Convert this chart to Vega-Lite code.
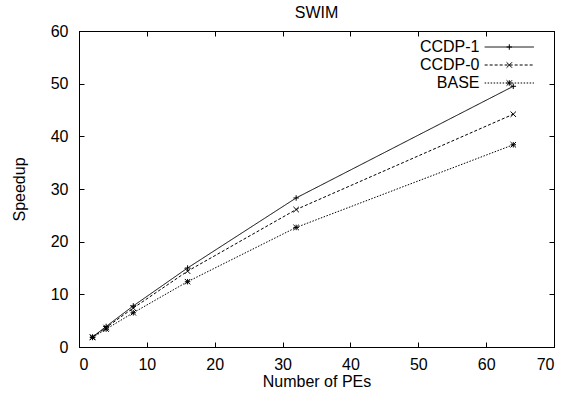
{
  "$schema": "https://vega.github.io/schema/vega-lite/v6.json",
  "autosize": {"type": "none"},
  "width": 475,
  "height": 316,
  "padding": {"left": 79, "top": 31, "right": 17, "bottom": 51},
  "background": "white",
  "title": {"text": "SWIM", "fontSize": 16, "font": "Liberation Sans", "fontWeight": "normal", "color": "black", "offset": 2},
  "config": {
    "view": {"stroke": "black", "strokeWidth": 1},
    "font": "Liberation Sans",
    "axis": {
      "grid": false,
      "domainColor": "black",
      "tickColor": "black",
      "tickSize": -5,
      "labelFont": "Liberation Sans",
      "labelFontSize": 16,
      "labelColor": "black",
      "titleFont": "Liberation Sans",
      "titleFontSize": 16,
      "titleFontWeight": "normal",
      "titleColor": "black"
    },
    "legend": {
      "labelFont": "Liberation Sans",
      "labelFontSize": 16,
      "labelColor": "black"
    }
  },
  "data": {
    "values": [
      {"series": "CCDP-1", "pes": 2, "speedup": 1.9},
      {"series": "CCDP-1", "pes": 4, "speedup": 3.9},
      {"series": "CCDP-1", "pes": 8, "speedup": 7.8},
      {"series": "CCDP-1", "pes": 16, "speedup": 15.0},
      {"series": "CCDP-1", "pes": 32, "speedup": 28.3},
      {"series": "CCDP-1", "pes": 64, "speedup": 49.5},
      {"series": "CCDP-0", "pes": 2, "speedup": 1.9},
      {"series": "CCDP-0", "pes": 4, "speedup": 3.7},
      {"series": "CCDP-0", "pes": 8, "speedup": 7.4},
      {"series": "CCDP-0", "pes": 16, "speedup": 14.4},
      {"series": "CCDP-0", "pes": 32, "speedup": 26.1},
      {"series": "CCDP-0", "pes": 64, "speedup": 44.2},
      {"series": "BASE", "pes": 2, "speedup": 1.8},
      {"series": "BASE", "pes": 4, "speedup": 3.4},
      {"series": "BASE", "pes": 8, "speedup": 6.5},
      {"series": "BASE", "pes": 16, "speedup": 12.4},
      {"series": "BASE", "pes": 32, "speedup": 22.7},
      {"series": "BASE", "pes": 64, "speedup": 38.4}
    ]
  },
  "layer": [
    {
      "mark": {"type": "line", "color": "black", "strokeWidth": 1},
      "encoding": {
        "x": {
          "field": "pes", "type": "quantitative",
          "scale": {"domain": [0, 70], "nice": false, "zero": false},
          "axis": {"orient": "bottom", "values": [0, 10, 20, 30, 40, 50, 60, 70], "title": "Number of PEs", "labelPadding": 14, "titleY": 34, "titleBaseline": "middle"}
        },
        "y": {
          "field": "speedup", "type": "quantitative",
          "scale": {"domain": [0, 60], "nice": false},
          "axis": {"orient": "left", "values": [0, 10, 20, 30, 40, 50, 60], "title": "Speedup", "labelPadding": 16, "titleX": -60, "titleY": 158, "titleBaseline": "middle", "titleAngle": -90}
        },
        "strokeDash": {
          "field": "series", "type": "nominal",
          "sort": ["CCDP-1", "CCDP-0", "BASE"],
          "scale": {"range": [[1, 0], [3, 2], [1.5, 1.5]]},
          "legend": {
            "title": null,
            "orient": "none",
            "legendX": 422.3,
            "legendY": 8,
            "padding": 0,
            "symbolType": "M-9,0L9,0",
            "symbolSize": 30,
            "symbolStrokeColor": "black",
            "symbolStrokeWidth": 1,
            "symbolFillColor": "transparent",
            "symbolOffset": 0,
            "labelAlign": "right",
            "labelOffset": -37.8,
            "rowPadding": 2
          }
        },
        "detail": {"field": "series"}
      }
    },
    {
      "mark": {"type": "point", "filled": false, "color": "black", "strokeWidth": 1, "size": 30, "opacity": 1},
      "encoding": {
        "x": {
          "field": "pes", "type": "quantitative",
          "axis": {"orient": "top", "values": [0, 10, 20, 30, 40, 50, 60, 70], "labels": false, "title": null}
        },
        "y": {
          "field": "speedup", "type": "quantitative",
          "axis": {"orient": "right", "values": [0, 10, 20, 30, 40, 50, 60], "labels": false, "title": null}
        },
        "shape": {
          "field": "series", "type": "nominal",
          "scale": {
            "domain": ["CCDP-1", "CCDP-0", "BASE"],
            "range": ["M-1,0L1,0M0,-1L0,1", "M-1,-1L1,1M-1,1L1,-1", "M-1,0L1,0M0,-1L0,1M-1,-1L1,1M-1,1L1,-1"]
          },
          "legend": {
            "title": null,
            "orient": "none",
            "legendX": 422.3,
            "legendY": 8,
            "padding": 0,
            "symbolSize": 30,
            "symbolStrokeColor": "black",
            "symbolStrokeWidth": 1,
            "symbolFillColor": "transparent",
            "symbolOffset": 0,
            "labelAlign": "right",
            "labelOffset": -37.8,
            "labelOpacity": 0,
            "rowPadding": 2
          }
        }
      }
    }
  ]
}
